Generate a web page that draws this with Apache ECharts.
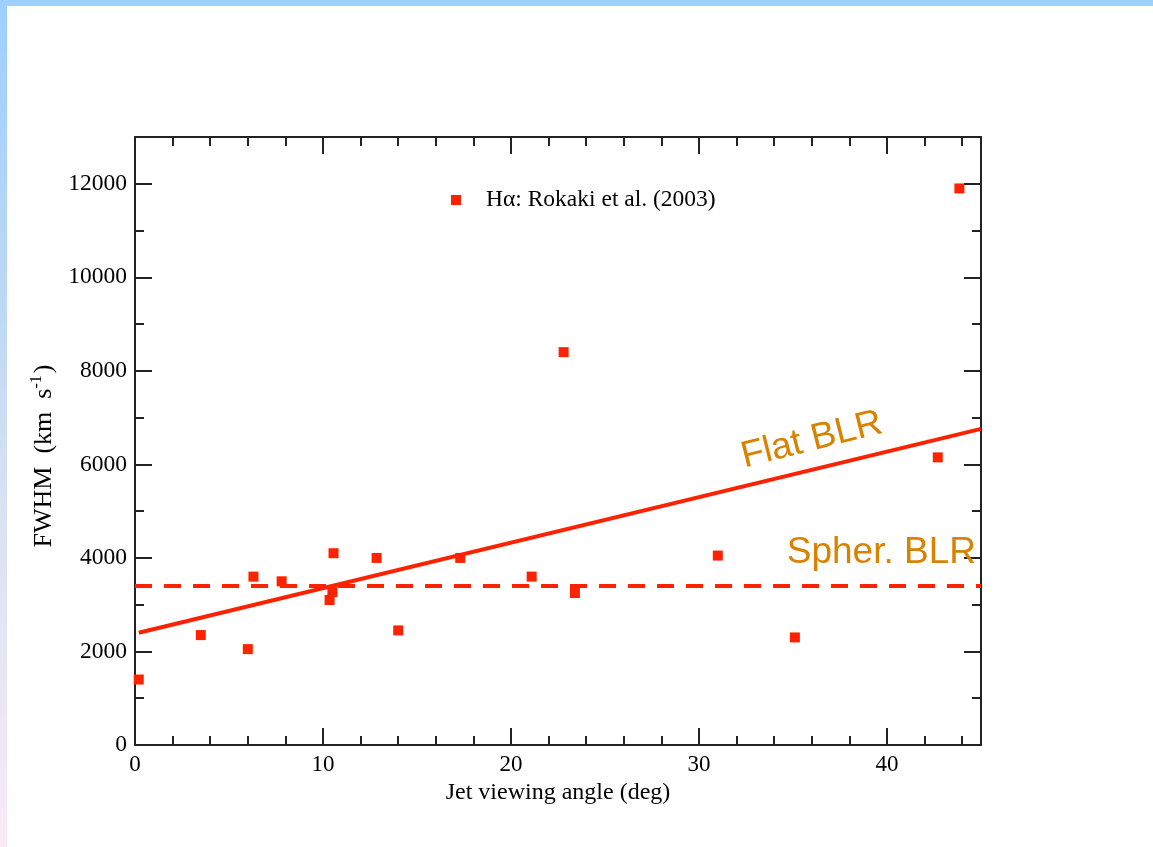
<!DOCTYPE html>
<html><head><meta charset="utf-8">
<script src="https://cdn.jsdelivr.net/npm/echarts@6/dist/echarts.min.js"></script>
<style>html,body{margin:0;padding:0;background:#fff;} #c{width:1153px;height:847px;}</style>
</head><body><div id="c"></div>
<script>
// Data
const angles = [0.2, 3.5, 6.0, 6.3, 7.8, 10.35, 10.5, 10.56, 12.85, 14.0, 17.3, 21.1, 22.8, 23.4, 31.0, 35.1, 42.7, 43.85];
const fwhm   = [1400, 2350, 2050, 3600, 3500, 3100, 3270, 4100, 4000, 2450, 4000, 3600, 8400, 3250, 4050, 2300, 6150, 11900];
const flatX  = [0.2, 45];
const flatY  = [2400, 6760];
const spherX = [0, 45];
const spherY = [3400, 3400];
const annoText = ['Flat BLR', 'Spher. BLR'];
const annoX    = [36.0, 39.7];
const annoY    = [6520, 4110];
const annoRot  = [14, 0];
const xMin = 0, xMax = 45, xMajor = 10, xMinor = 2;
const yMin = 0, yMax = 13000, yMajor = 2000, yMinor = 1000;
const legendName = 'Hα: Rokaki et al. (2003)';

const RED = '#ff2200';
const ORANGE = '#d98200';
const SERIF = '"Liberation Serif", "DejaVu Serif", serif';

const chart = echarts.init(document.getElementById('c'), null, {renderer: 'canvas'});

function xAxis(pos, interval, len, showLine, labels, name) {
  return {
    type: 'value', position: pos, min: xMin, max: xMax, interval: interval,
    axisLine: {show: showLine, onZero: false, lineStyle: {color: '#222', width: 2}},
    axisTick: {show: true, inside: true, length: len, lineStyle: {color: '#222', width: 2}},
    axisLabel: {show: labels, margin: 8, color: '#000', fontFamily: SERIF, fontSize: 23,
      formatter: v => (v % xMajor === 0 ? String(v) : '')},
    splitLine: {show: false},
    name: name || '', nameLocation: 'middle', nameGap: 33,
    nameTextStyle: {color: '#000', fontFamily: SERIF, fontSize: 24}
  };
}
function yAxis(pos, interval, len, showLine, labels, name) {
  return {
    type: 'value', position: pos, min: yMin, max: yMax, interval: interval,
    axisLine: {show: showLine, onZero: false, lineStyle: {color: '#222', width: 2}},
    axisTick: {show: true, inside: true, length: len, lineStyle: {color: '#222', width: 2}},
    axisLabel: {show: labels, margin: 8, color: '#000', fontFamily: SERIF, fontSize: 23.5,
      formatter: v => (v % yMajor === 0 && v < yMax ? String(v) : '')},
    splitLine: {show: false},
    name: name || '', nameLocation: 'middle', nameGap: 76, nameRotate: 90,
    nameTextStyle: {color: '#000', fontFamily: SERIF, fontSize: 26,
      rich: {a: {fontFamily: SERIF, fontSize: 26, color: '#000'},
             e: {fontFamily: SERIF, fontSize: 26, color: '#000', padding: [0, 30, 0, 0]},
             s: {fontFamily: SERIF, fontSize: 16, color: '#000', verticalAlign: 'top', padding: [0, 2, 14, 0]}}}
  };
}

const option = {
  backgroundColor: '#ffffff',
  animation: false,
  graphic: [
    {type: 'rect', shape: {x: 0, y: 0, width: 7, height: 847}, z: -10,
     style: {fill: new echarts.graphic.LinearGradient(0, 0, 0, 1, [
       {offset: 0, color: '#9ecfff'}, {offset: 0.35, color: '#bcd8f4'},
       {offset: 0.6, color: '#d8e2f4'}, {offset: 0.8, color: '#e8e6f6'}, {offset: 1, color: '#fbeaf8'}])}},
    {type: 'rect', shape: {x: 0, y: 0, width: 1153, height: 6}, z: -10, style: {fill: '#9ecfff'}}
  ],
  grid: {left: 135, right: 172, top: 137, bottom: 102, containLabel: false},
  legend: {
    data: [legendName], left: 446, top: 183, icon: 'rect', itemWidth: 10, itemHeight: 10,
    textStyle: {fontFamily: SERIF, fontSize: 23.5, color: '#000', padding: [0, 0, 0, 20]}
  },
  xAxis: [
    xAxis('bottom', xMajor, 17, true, true, 'Jet viewing angle (deg)'),
    xAxis('bottom', xMinor, 9, false, false),
    xAxis('top', xMajor, 17, true, false),
    xAxis('top', xMinor, 9, false, false)
  ],
  yAxis: [
    yAxis('left', yMajor, 17, true, true, '{a|FWHM  (km  s}{s|-1}{e|)}'),
    yAxis('left', yMinor, 9, false, false),
    yAxis('right', yMajor, 17, true, false),
    yAxis('right', yMinor, 9, false, false)
  ],
  series: [
    {name: 'Spher. BLR line', type: 'line', data: spherX.map((x, i) => [x, spherY[i]]),
     showSymbol: false, symbol: 'none', silent: true,
     lineStyle: {color: RED, width: 4, type: [17, 12], opacity: 1}, z: 2},
    {name: 'Flat BLR line', type: 'line', data: flatX.map((x, i) => [x, flatY[i]]),
     showSymbol: false, symbol: 'none', silent: true,
     lineStyle: {color: RED, width: 4, opacity: 1}, z: 3},
    {name: legendName, type: 'scatter', symbol: 'rect', symbolSize: 10,
     data: angles.map((a, i) => [a, fwhm[i]]),
     itemStyle: {color: RED, opacity: 1}, z: 5},
    {name: 'annotations', type: 'scatter', symbolSize: 0, silent: true,
     itemStyle: {opacity: 1},
     data: annoText.map((t, i) => ({value: [annoX[i], annoY[i]],
       label: {show: true, position: 'inside', formatter: t, rotate: annoRot[i], opacity: 1,
               color: ORANGE, fontFamily: '"Liberation Sans", Arial, sans-serif', fontSize: 37}})),
     z: 6}
  ]
};
chart.setOption(option);
</script>
</body></html>
